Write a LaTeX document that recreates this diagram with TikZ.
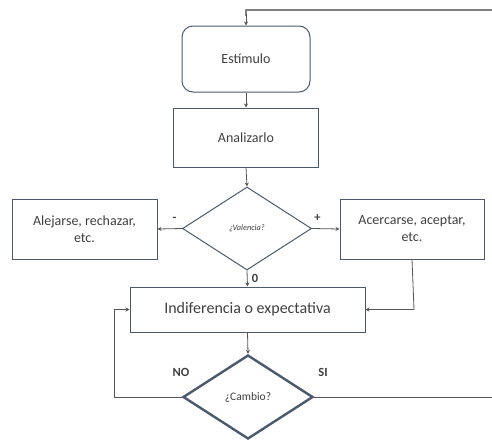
\documentclass[tikz,border=0pt]{standalone}
\usepackage{fontspec}
\setmainfont{Carlito}
\usetikzlibrary{shapes.geometric,arrows.meta}
\definecolor{boxline}{HTML}{4A5A6C}
\definecolor{conn}{HTML}{555555}
\definecolor{txt}{HTML}{404040}
\begin{document}
\begin{tikzpicture}[x=1pt,y=-1pt,
  box/.style={draw=boxline,line width=1pt,fill=white,text=txt,align=center,inner sep=0pt,font=\fontsize{14}{17}\selectfont},
  decision/.style={draw=boxline,diamond,line width=1pt,fill=white,text=txt,inner sep=0pt,aspect=1.55},
  flow/.style={draw=conn,line width=0.8pt,-{Stealth[length=4pt,width=4pt]}},
  lbl/.style={text=txt,font=\fontsize{12.5}{14}\selectfont\bfseries}
]
\useasboundingbox (0,0) rectangle (492,439);

\node[box,rounded corners=11pt,minimum width=128pt,minimum height=66pt] (estimulo) at (246,59) {Estímulo};
\node[box,minimum width=145pt,minimum height=59pt] (analizar) at (246,137.5) {Analizarlo};
\node[decision,minimum width=129pt,minimum height=83pt] (valencia) at (247,228.5) {\fontsize{8.3}{10}\selectfont\itshape ¿Valencia?};
\node[box,minimum width=145pt,minimum height=60pt] (alejarse) at (84.5,229) {Alejarse, rechazar,\\etc.};
\node[box,minimum width=144pt,minimum height=60pt] (acercarse) at (412,229) {Acercarse, aceptar,\\etc.};
\node[box,minimum width=235pt,minimum height=45pt] (indif) at (247.5,309.5) {\fontsize{16}{19}\selectfont Indiferencia o expectativa};
\node[decision,line width=2.4pt,minimum width=130pt,minimum height=84pt] (cambio) at (248,397) {\fontsize{11.5}{14}\selectfont ¿Cambio?};

\coordinate (topright) at (492,10);
\coordinate (bottomright) at (492,397);
\coordinate (topturn) at (246,10);
\coordinate (leftturn) at (114,397);
\coordinate (acturn) at (414,309.5);

% feedback from the right edge back to the start
\draw[draw=gray,line width=2pt,line join=round] (topright) -- (topturn) -- ++(0,6);
\draw[flow] (246,14) -- (estimulo.north);
\draw[flow] (estimulo.south) -- (analizar.north);
\draw[flow] (analizar.south) -- (valencia.north);
\draw[flow] (valencia.west) -- node[lbl,above=3pt,pos=0.3]{-} (alejarse.east);
\draw[flow] (valencia.east) -- node[lbl,above=3pt,pos=0.2]{+} (acercarse.west);
\draw[flow] (valencia.south) -- node[lbl,right=1pt,pos=0.5]{0} (indif.north);
\draw[flow] (acercarse.south) -- (acturn) -- (indif.east);
\draw[flow] (indif.south) -- (cambio.north);
\draw[flow] (cambio.west) -- (leftturn) |- (indif.west);
\draw[draw=conn,line width=0.8pt] (cambio.east) -- (bottomright);

\node[lbl] (no) at (181,372) {NO};
\node[lbl] (si) at (323,372) {SI};
\end{tikzpicture}
\end{document}
